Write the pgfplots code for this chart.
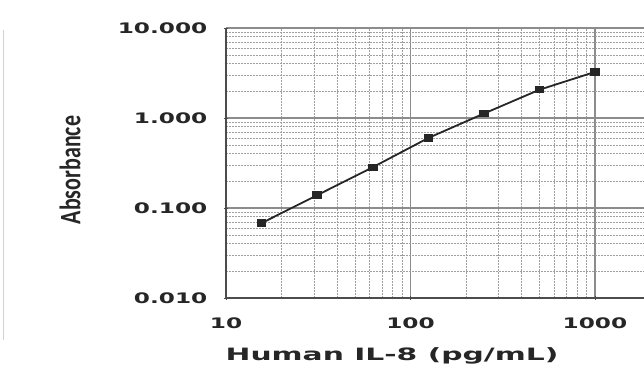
\documentclass[border=0pt]{standalone}
\usepackage{pgfplots}
\pgfplotsset{compat=1.18}
\usepackage{fontspec}
\setmainfont{DejaVu Sans}
\newfontfamily\carl{Carlito}
\usepackage{graphicx}
\newcommand{\wide}[1]{\scalebox{1.6}[1]{#1}}
\begin{document}
\begin{tikzpicture}[x=1pt,y=1pt]
\path[use as bounding box] (0,0) rectangle (644,370);
\draw[gray!35, line width=0.8pt] (3,30) -- (3,340);
\begin{axis}[
  at={(226pt,72pt)}, anchor=south west,
  scale only axis, width=418pt, height=270pt,
  xmode=log, ymode=log,
  xmin=10, xmax=1845, ymin=0.01, ymax=10,
  axis x line=bottom, axis y line=left,
  axis line style={-, gray!60!black, line width=1.2pt},
  xtick={10,100,1000},
  xticklabels={\wide{10},\wide{100},\wide{1000}},
  ytick={0.01,0.1,1,10},
  yticklabels={\wide{0.010},\wide{0.100},\wide{1.000},\wide{10.000}},
  grid=both,
  major grid style={gray!90, line width=1.2pt},
  minor grid style={gray!75, dash pattern=on 1.8pt off 1.2pt, line width=0.8pt},
  tick style={gray!60!black, line width=0.9pt},
  tick label style={font=\bfseries\fontsize{14.5}{14.5}\selectfont, text=black!85},
  xticklabel style={yshift=-14pt},
  yticklabel style={xshift=-13pt},
]
\addplot[black!85, line width=1.8pt, mark=square*, mark size=2.8pt,
  mark options={xscale=1.4, solid}] coordinates {
  (15.6,0.068) (31.25,0.139) (62.5,0.284) (125,0.60) (250,1.12) (500,2.06) (1000,3.25)
};
\end{axis}
\node[font=\bfseries\fontsize{17}{17}\selectfont, text=black!85] at (392,14) {\scalebox{1.75}[1]{Human IL-8 (pg/mL)}};
\node[font=\carl\bfseries\fontsize{22}{22}\selectfont, text=black!85, rotate=90] at (70,200) {\scalebox{1}[1.35]{Absorbance}};
\end{tikzpicture}
\end{document}
